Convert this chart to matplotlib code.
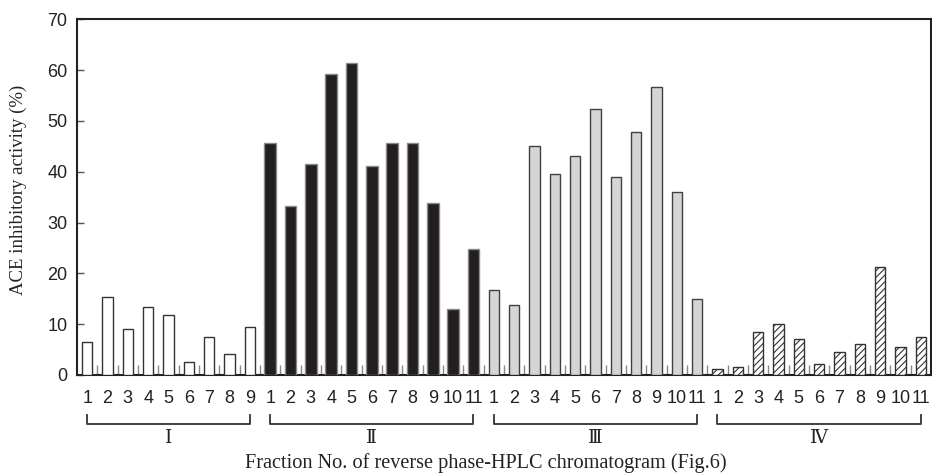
import matplotlib
matplotlib.use("Agg")
import matplotlib.pyplot as plt
import matplotlib.transforms as mtransforms
import numpy as np

# ACE inhibitory activity (%) of each RP-HPLC fraction, per gel-filtration group
group_names = ["Ⅰ", "Ⅱ", "Ⅲ", "Ⅳ"]
act_I = [6.4, 15.4, 9.0, 13.4, 11.9, 2.5, 7.5, 4.1, 9.4]
act_II = [45.6, 33.2, 41.6, 59.3, 61.3, 41.2, 45.6, 45.6, 33.8, 13.0, 24.8]
act_III = [16.8, 13.8, 45.0, 39.5, 43.0, 52.4, 39.0, 47.8, 56.6, 36.0, 14.9]
act_IV = [1.1, 1.6, 8.5, 10.0, 7.1, 2.2, 4.5, 6.0, 21.3, 5.6, 7.5]
y_ticks = [0, 10, 20, 30, 40, 50, 60, 70]

groups = [act_I, act_II, act_III, act_IV]
# per-group look: face, edge, hatch, bar width
styles = [
    dict(color="white", edgecolor="#333333", hatch=None, width=0.5),
    dict(color="#231f20", edgecolor="#8a8a8a", hatch=None, width=0.57),
    dict(color="#d4d5d7", edgecolor="#404040", hatch=None, width=0.5),
    dict(color="white", edgecolor="#333333", hatch="/////", width=0.5),
]

plt.rcParams["hatch.linewidth"] = 0.8
SANS = "Liberation Sans"
SERIF = "Liberation Serif"

fig = plt.figure(figsize=(9.32, 4.74), dpi=100)
ax = fig.add_axes([0.0826, 0.2089, 0.9163, 0.7504])

start = 0
tick_pos, tick_lab = [], []
spans = []
for vals, st in zip(groups, styles):
    x = np.arange(start, start + len(vals))
    ax.bar(x, vals, width=st["width"], color=st["color"], edgecolor=st["edgecolor"],
           hatch=st["hatch"], linewidth=1.0, zorder=3)
    tick_pos += list(x)
    tick_lab += [str(i + 1) for i in range(len(vals))]
    spans.append((x[0], x[-1]))
    start += len(vals)

n = start
ax.set_xlim(-0.5, n - 0.5)
ax.set_ylim(0, 70)
ax.set_yticks(y_ticks)
ax.set_yticklabels([str(v) for v in y_ticks], fontfamily=SANS, fontsize=13, color="#222222")
ax.tick_params(axis="y", direction="in", length=5, width=1, color="#555555", pad=7)

ax.set_xticks(tick_pos)
ax.set_xticklabels(tick_lab, fontfamily=SANS, fontsize=13, color="#222222")
ax.tick_params(axis="x", which="major", length=0, pad=11)
ax.set_xticks(np.arange(0.5, n - 0.5, 1.0), minor=True)
ax.tick_params(axis="x", which="minor", direction="in", length=7, width=1, color="#888888")

for sp in ax.spines.values():
    sp.set_linewidth(1.5)
    sp.set_color("#222222")

# group brackets under the tick labels
trans = mtransforms.blended_transform_factory(ax.transData, ax.transAxes)
y_bar, y_end, y_txt = -0.138, -0.113, -0.178
for (a, b), name in zip(spans, group_names):
    ax.plot([a, a, b, b], [y_end, y_bar, y_bar, y_end], transform=trans,
            color="#333333", lw=1.3, clip_on=False)
    ax.text((a + b) / 2, y_txt, name, transform=trans, ha="center", va="center",
            fontsize=13.5, color="#222222",
            family=[SERIF, "DejaVu Serif", "Noto Sans CJK JP"])

fig.text(486 / 932, 1 - 463 / 474, "Fraction No. of reverse phase-HPLC chromatogram (Fig.6)",
         ha="center", va="center", fontfamily=SERIF, fontsize=14.6, color="#222222")
fig.text(18 / 932, 1 - 190 / 474, "ACE inhibitory activity (%)", rotation=90,
         ha="center", va="center", fontfamily=SERIF, fontsize=13.5, color="#222222")

fig.savefig("out.png", dpi=100)
